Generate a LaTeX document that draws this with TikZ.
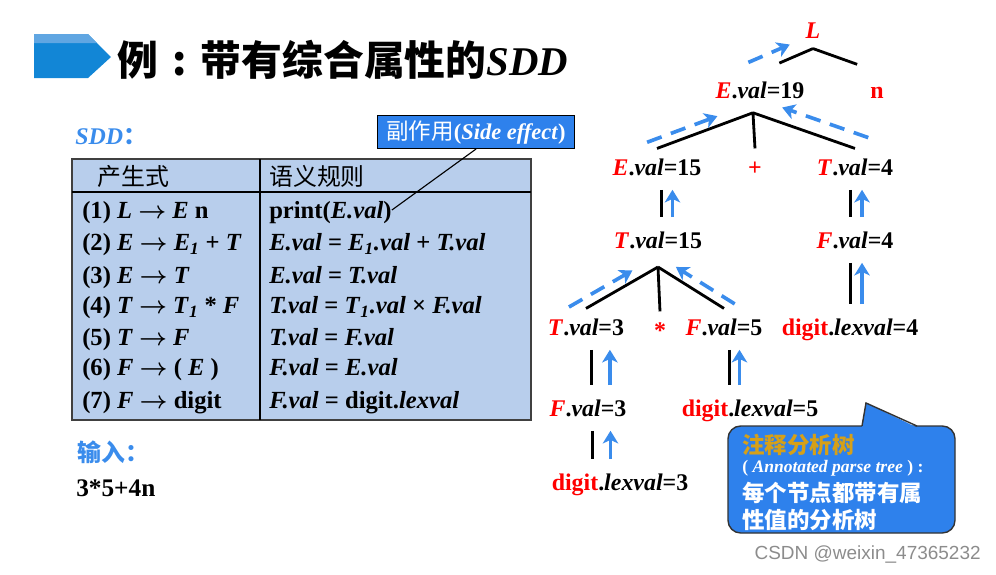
\documentclass[tikz,border=0pt]{standalone}
\usepackage{fontspec}
\setmainfont{Liberation Serif}
\newfontfamily\cjk{Noto Sans CJK SC}
\newfontfamily\markfont{Liberation Sans}
\usetikzlibrary{arrows.meta,calc}

\definecolor{titleblue}{RGB}{18,134,214}
\definecolor{titlelight}{RGB}{96,166,226}
\definecolor{tablefill}{RGB}{184,206,236}
\definecolor{boxblue}{RGB}{46,129,236}
\definecolor{flowblue}{RGB}{58,140,236}
\definecolor{notegold}{RGB}{214,160,24}

\newcommand{\prodarrow}{{\boldmath$\rightarrow$}}
\newcommand{\attr}[3]{\textcolor{red}{\textit{#1}}.\textit{#2}=#3}
\newcommand{\lexv}[1]{\textcolor{red}{digit}.\textit{lexval}=#1}

\tikzset{
  tnode/.style={font=\fontsize{17pt}{20pt}\selectfont\bfseries, text height=12pt, text depth=0pt, inner xsep=1pt, inner ysep=7pt},
  treeline/.style={line width=2pt, black},
  uparrow/.style={flowblue, line width=2.6pt, -{Stealth[length=9pt,width=11pt,inset=2.5pt]}},
  flowarrow/.style={uparrow, dash pattern=on 11pt off 7pt},
  cell/.style={font=\fontsize{17.5pt}{20pt}\selectfont\bfseries, text height=12pt, text depth=0pt, inner sep=0pt, anchor=west},
}

\begin{document}
\begin{tikzpicture}[x=0.025cm, y=-0.025cm]
    \useasboundingbox (0,0) rectangle (996,574);

    % Title
    \fill[titleblue] (34,34) -- (88,34) -- (111,57) -- (88,78) -- (34,78) -- cycle;
    \fill[titlelight] (34,34) -- (88,34) -- (97,43) -- (34,43) -- cycle;
    \node[anchor=west, inner sep=0pt, font=\fontsize{29pt}{32pt}\selectfont\bfseries] (title) at (117,60)
        {{\cjk 例\hspace{0.35em}:\hspace{0.35em}带有综合属性的}\textit{SDD}};

    % SDD label and side effect box
    \node[anchor=west, inner sep=0pt, text=flowblue, font=\fontsize{17pt}{20pt}\selectfont\bfseries] (sdd) at (75,137)
        {\textit{SDD}{\cjk ：}};
    \node[draw=black, line width=0.8pt, fill=boxblue, text=white, minimum height=23pt, inner xsep=6pt,
        font=\fontsize{16pt}{18pt}\selectfont\bfseries] (side) at (476,132) {{\cjk\mdseries 副作用}(\textit{Side effect})};

    % Draw the table
    \filldraw[fill=tablefill, draw=black!75, line width=1pt] (72,159) rectangle (531,420);
    \draw[line width=0.8pt] (72,192) -- (531,192);
    \draw[line width=1.4pt] (260,159) -- (260,420);
    \node[cell, font=\cjk\fontsize{17pt}{20pt}\selectfont] (head1) at (97,177) {产生式};
    \node[cell, font=\cjk\fontsize{17pt}{20pt}\selectfont] (head2) at (269,177) {语义规则};

    % Rows of the table
    \foreach \i/\y/\prod/\sem in {
        1/210/{(1) \textit{L} \prodarrow{} \textit{E} n}/{print(\textit{E.val})},
        2/242/{(2) \textit{E} \prodarrow{} \textit{E}\textsubscript{\textit{1}} + \textit{T}}/{\textit{E.val} = \textit{E}\textsubscript{\textit{1}}\textit{.val} + \textit{T.val}},
        3/275/{(3) \textit{E} \prodarrow{} \textit{T}}/{\textit{E.val} = \textit{T.val}},
        4/305/{(4) \textit{T} \prodarrow{} \textit{T}\textsubscript{\textit{1}} * \textit{F}}/{\textit{T.val} = \textit{T}\textsubscript{\textit{1}}\textit{.val} × \textit{F.val}},
        5/337/{(5) \textit{T} \prodarrow{} \textit{F}}/{\textit{T.val} = \textit{F.val}},
        6/367/{(6) \textit{F} \prodarrow{} ( \textit{E} )}/{\textit{F.val} = \textit{E.val}},
        7/400/{(7) \textit{F} \prodarrow{} digit}/{\textit{F.val} = digit.\textit{lexval}}}
    {
        \node[cell] (p\i) at (82,\y) {\prod};
        \node[cell] (r\i) at (269,\y) {\sem};
    }
    \draw[line width=0.8pt] (side.south) -- (r1.east);

    % Input
    \node[anchor=west, inner sep=0pt, text=flowblue, font=\cjk\bfseries\fontsize{17pt}{20pt}\selectfont] (inlabel) at (77,452) {输入：};
    \node[anchor=west, inner sep=0pt, font=\fontsize{18pt}{20pt}\selectfont\bfseries] (input) at (76,488) {3*5+4n};

    % Nodes of the annotated parse tree
    \node[tnode] (L) at (813,30) {\textcolor{red}{\textit{L}}};
    \node[tnode] (e19) at (760,90) {\attr{E}{val}{19}};
    \node[tnode, text=red] (n) at (877,90) {n};
    \node[tnode] (e15) at (657,167) {\attr{E}{val}{15}};
    \node[tnode, text=red] (plus) at (755,167) {+};
    \node[tnode] (t4) at (855,167) {\attr{T}{val}{4}};
    \node[tnode] (t15) at (658,240) {\attr{T}{val}{15}};
    \node[tnode] (f4) at (855,240) {\attr{F}{val}{4}};
    \node[tnode] (t3) at (586,327) {\attr{T}{val}{3}};
    \node[tnode, text=red] (star) at (660,330) {*};
    \node[tnode] (f5) at (724,327) {\attr{F}{val}{5}};
    \node[tnode] (d4) at (850,327) {\lexv{4}};
    \node[tnode] (f3) at (588,408) {\attr{F}{val}{3}};
    \node[tnode] (d5) at (750,408) {\lexv{5}};
    \node[tnode] (d3) at (620,482) {\lexv{3}};

    % Branch points
    \coordinate (aL) at (L.south);
    \coordinate (a19) at ([xshift=-5pt,yshift=-3pt]e19.south);
    \coordinate (a15) at ([yshift=-6pt]t15.south);

    % Draw the tree edges
    \draw[treeline, shorten >=15pt] (aL) -- (e19.north);
    \draw[treeline, shorten >=15pt] (aL) -- (n.north);
    \foreach \c in {e15,plus,t4}
        \draw[treeline] (a19) -- (\c.north);
    \foreach \c in {t3,star,f5}
        \draw[treeline] (a15) -- (\c.north);
    \foreach \a/\b/\s/\t in {e15/t15/3pt/11pt, t4/f4/-3pt/5pt, f4/d4/-3pt/5pt, t3/f3/4pt/17pt, f5/d5/4pt/11pt, f3/d3/3pt/16pt}
    {
        \draw[treeline, shorten <=3pt, shorten >=3pt] ($(\a.south)+(\s,0pt)$) -- ($(\a.south |- \b.north)+(\s,0pt)$);
        \draw[uparrow, shorten <=3pt, shorten >=3pt] ($(\a.south |- \b.north)+(\t,0pt)$) -- ($(\a.south)+(\t,0pt)$);
    }

    % Draw the dashed flow arrows
    \draw[flowarrow, shorten <=-9pt, shorten >=18pt, transform canvas={yshift=10pt}] (e19.north) -- (aL);
    \draw[flowarrow, shorten <=-7.5pt, shorten >=27pt, transform canvas={yshift=7pt}] (e15.north) -- (a19);
    \draw[flowarrow, shorten <=-10pt, shorten >=22pt, transform canvas={yshift=11pt}] (t4.north) -- (a19);
    \draw[flowarrow, shorten <=-14pt, shorten >=21pt, transform canvas={yshift=8pt}] (t3.north) -- (a15);
    \draw[flowarrow, shorten <=-9pt, shorten >=15pt, transform canvas={yshift=8pt}] (f5.north) -- (a15);

    % Callout
    \filldraw[fill=boxblue, draw=black!80, line width=1pt, rounded corners=9pt] (728,426) rectangle (955,533);
    \fill[boxblue] (862,427.5) -- (866,403) -- (917,427.5) -- cycle;
    \draw[black!80, line width=1pt] (862,426) -- (866,403) -- (917,426);
    \node[anchor=west, inner sep=0pt, text=notegold, font=\cjk\bfseries\fontsize{16pt}{18pt}\selectfont] (note1) at (742,445) {注释分析树};
    \node[anchor=west, inner sep=0pt, text=white, font=\fontsize{12.5pt}{14pt}\selectfont\bfseries] (note2) at (742,468)
        {( \textit{Annotated parse tree} ) :};
    \node[anchor=west, inner sep=0pt, text=white, font=\cjk\bfseries\fontsize{16pt}{18pt}\selectfont] (note3) at (742,493) {每个节点都带有属};
    \node[anchor=west, inner sep=0pt, text=white, font=\cjk\bfseries\fontsize{16pt}{18pt}\selectfont] (note4) at (742,520) {性值的分析树};

    % Watermark
    \node[anchor=east, inner sep=0pt, text=black!45, font=\markfont\fontsize{13.5pt}{15pt}\selectfont] (mark) at (981,555) {CSDN @weixin\_47365232};
\end{tikzpicture}
\end{document}
